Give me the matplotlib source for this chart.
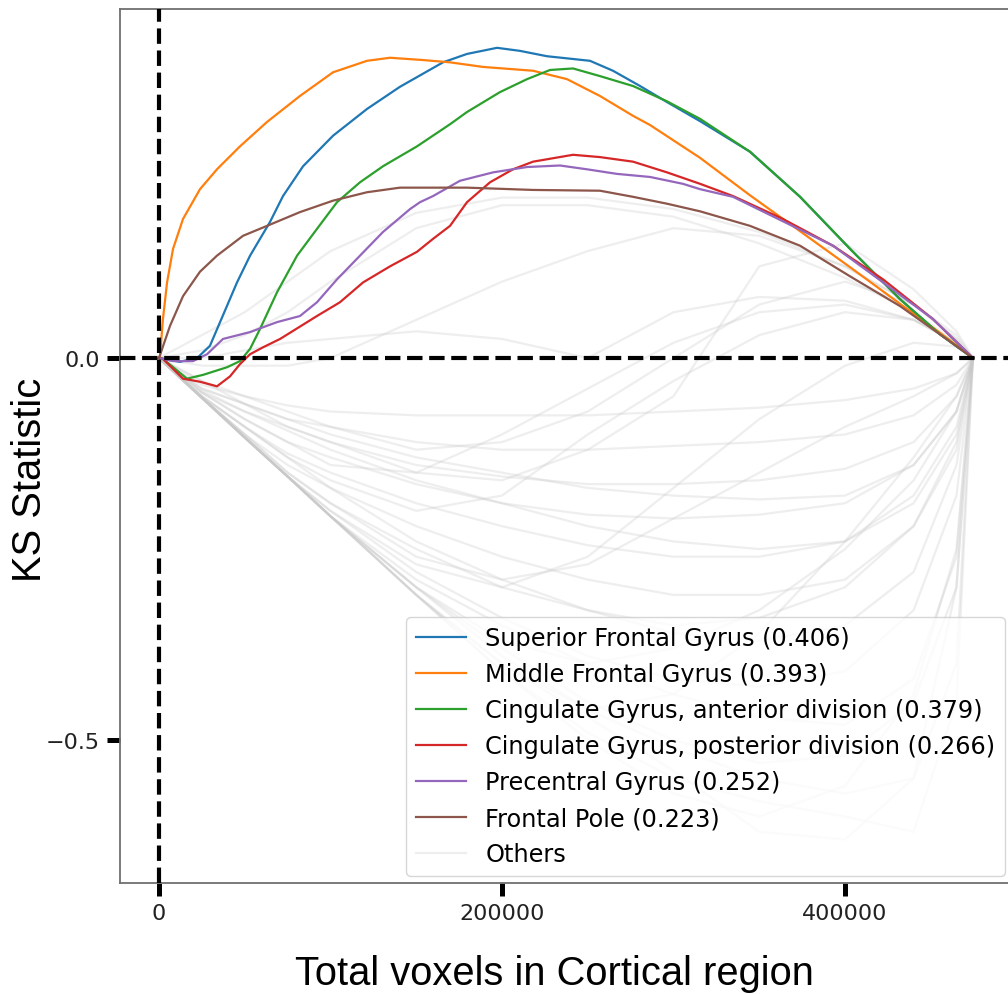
import matplotlib
matplotlib.use("Agg")
import matplotlib.pyplot as plt
import numpy as np

# ---------------- data (x in voxels, y = KS statistic) ----------------
names = [
    "Superior Frontal Gyrus (0.406)",
    "Middle Frontal Gyrus (0.393)",
    "Cingulate Gyrus, anterior division (0.379)",
    "Cingulate Gyrus, posterior division (0.266)",
    "Precentral Gyrus (0.252)",
    "Frontal Pole (0.223)",
]
colors = ["tab:blue", "tab:orange", "tab:green", "tab:red", "tab:purple", "tab:brown"]

sfg_x = [0, 12.2, 22.7, 29.7, 35.6, 45.5, 53.1, 64.7, 72.3, 84.0, 101.5, 121.3, 140.5, 165.6,
         179.6, 197.1, 210.5, 226.2, 251.3, 264.7, 280.5, 296.2, 315.5, 344.6, 373.8, 402.9,
         432.1, 455.4, 474.6]
sfg_y = [0, -0.005, 0.001, 0.016, 0.047, 0.099, 0.134, 0.178, 0.212, 0.251, 0.291, 0.326, 0.355,
         0.387, 0.398, 0.406, 0.402, 0.395, 0.389, 0.376, 0.356, 0.335, 0.310, 0.270, 0.211,
         0.143, 0.077, 0.031, 0]

mfg_x = [0, 0.6, 2.3, 4.7, 8.2, 14.0, 23.9, 33.8, 47.2, 63.0, 82.2, 101.5, 121.3, 134.7, 153.9,
         169.7, 188.9, 218.1, 237.9, 257.1, 276.4, 286.3, 315.5, 344.6, 373.8, 402.9, 432.1,
         455.4, 474.6]
mfg_y = [0, 0.003, 0.051, 0.099, 0.143, 0.182, 0.221, 0.247, 0.277, 0.309, 0.343, 0.374, 0.389,
         0.393, 0.390, 0.387, 0.381, 0.376, 0.365, 0.343, 0.317, 0.305, 0.262, 0.213, 0.166,
         0.119, 0.071, 0.033, 0]

cga_x = [0, 2.3, 16.3, 25.7, 39.7, 47.2, 53.1, 58.9, 68.8, 80.5, 92.1, 103.8, 117.2, 130.6, 150.4,
         169.7, 179.6, 198.8, 214.6, 228.0, 241.4, 257.1, 276.4, 296.2, 315.5, 344.6, 373.8,
         402.9, 432.1, 455.4, 474.6]
cga_y = [0, -0.001, -0.027, -0.022, -0.012, -0.004, 0.012, 0.038, 0.086, 0.134, 0.169, 0.204,
         0.230, 0.251, 0.277, 0.306, 0.322, 0.348, 0.365, 0.377, 0.379, 0.369, 0.356, 0.336,
         0.313, 0.270, 0.211, 0.143, 0.077, 0.031, 0]

cgp_x = [0, 2.3, 14.0, 23.9, 33.8, 41.4, 47.2, 53.1, 60.6, 70.6, 92.1, 105.5, 119.0, 134.7, 150.4,
         159.8, 169.7, 179.6, 193.0, 206.4, 218.1, 241.4, 257.1, 276.4, 296.2, 315.5, 334.7,
         363.8, 393.0, 422.2, 451.3, 474.6]
cgp_y = [0, -0.001, -0.027, -0.031, -0.037, -0.024, -0.008, 0.005, 0.014, 0.025, 0.055, 0.073,
         0.099, 0.120, 0.139, 0.156, 0.173, 0.204, 0.230, 0.247, 0.257, 0.266, 0.263, 0.257,
         0.243, 0.228, 0.212, 0.182, 0.147, 0.103, 0.051, 0]

pcg_x = [0, 2.3, 8.2, 19.8, 28.0, 37.3, 53.1, 68.8, 82.2, 92.1, 103.8, 117.2, 130.6, 146.4, 152.2,
         159.8, 175.5, 194.8, 214.6, 233.8, 249.6, 267.1, 286.3, 305.5, 315.5, 334.7, 363.8,
         393.0, 422.2, 451.3, 474.6]
pcg_y = [0, -0.001, -0.004, -0.004, 0.005, 0.025, 0.034, 0.047, 0.055, 0.073, 0.103, 0.134,
         0.165, 0.195, 0.204, 0.212, 0.232, 0.243, 0.250, 0.252, 0.247, 0.241, 0.237, 0.228,
         0.221, 0.211, 0.179, 0.147, 0.099, 0.051, 0]

fp_x = [0, 6.4, 14.0, 23.9, 33.8, 49.0, 63.0, 82.2, 101.5, 121.3, 140.5, 169.7, 179.6, 218.1,
        257.1, 276.4, 296.2, 315.5, 344.6, 373.8, 402.9, 432.1, 455.4, 474.6]
fp_y = [0, 0.042, 0.081, 0.113, 0.134, 0.160, 0.173, 0.191, 0.206, 0.217, 0.223, 0.223, 0.223,
        0.220, 0.219, 0.211, 0.202, 0.192, 0.173, 0.147, 0.107, 0.068, 0.031, 0]

main_x = [sfg_x, mfg_x, cga_x, cgp_x, pcg_x, fp_x]
main_y = [sfg_y, mfg_y, cga_y, cgp_y, pcg_y, fp_y]

# other regions (grey), on a shared x grid (thousand voxels)
others_x = [0, 25, 50, 75, 100, 150, 200, 250, 300, 350, 400, 440, 465, 474.6]
others_y = [
    [0, 0.03, 0.06, 0.10, 0.14, 0.19, 0.21, 0.21, 0.195, 0.165, 0.12, 0.07, 0.025, 0],
    [0, 0.01, 0.03, 0.06, 0.10, 0.17, 0.20, 0.20, 0.185, 0.15, 0.105, 0.06, 0.02, 0],
    [0, -0.01, -0.01, -0.01, 0.0, 0.05, 0.10, 0.14, 0.17, 0.16, 0.12, 0.07, 0.025, 0],
    [0, 0.0, 0.01, 0.02, 0.025, 0.035, 0.025, 0.0, 0.06, 0.08, 0.075, 0.05, 0.02, 0],
    [0, -0.03, -0.06, -0.09, -0.11, -0.15, -0.16, -0.12, -0.05, 0.12, 0.15, 0.09, 0.035, 0],
    [0, -0.03, -0.05, -0.07, -0.09, -0.12, -0.11, -0.07, 0.0, 0.07, 0.10, 0.07, 0.03, 0],
    [0, -0.045, -0.08, -0.11, -0.14, -0.15, -0.10, -0.04, 0.02, 0.06, 0.07, 0.05, 0.02, 0],
    [0, -0.052, -0.104, -0.155, -0.207, -0.31, -0.40, -0.47, -0.54, -0.62, -0.63, -0.55, -0.30, 0],
    [0, -0.052, -0.104, -0.155, -0.207, -0.30, -0.38, -0.45, -0.50, -0.53, -0.52, -0.45, -0.30, 0],
    [0, -0.052, -0.104, -0.155, -0.20, -0.28, -0.34, -0.39, -0.42, -0.43, -0.41, -0.33, -0.18, 0],
    [0, -0.052, -0.10, -0.15, -0.19, -0.25, -0.30, -0.33, -0.36, -0.37, -0.35, -0.28, -0.14, 0],
    [0, -0.052, -0.10, -0.14, -0.17, -0.22, -0.26, -0.29, -0.31, -0.31, -0.29, -0.22, -0.11, 0],
    [0, -0.050, -0.09, -0.125, -0.15, -0.19, -0.22, -0.245, -0.26, -0.26, -0.24, -0.18, -0.09, 0],
    [0, -0.045, -0.08, -0.11, -0.13, -0.165, -0.19, -0.205, -0.21, -0.205, -0.19, -0.14, -0.07, 0],
    [0, -0.042, -0.07, -0.09, -0.11, -0.14, -0.155, -0.165, -0.165, -0.16, -0.145, -0.11, -0.05, 0],
    [0, -0.04, -0.06, -0.08, -0.09, -0.11, -0.12, -0.12, -0.115, -0.11, -0.10, -0.075, -0.035, 0],
    [0, -0.035, -0.05, -0.062, -0.07, -0.075, -0.075, -0.075, -0.07, -0.065, -0.055, -0.04, -0.02, 0],
    [0, -0.052, -0.104, -0.155, -0.207, -0.31, -0.41, -0.50, -0.57, -0.60, -0.56, -0.44, -0.25, 0],
    [0, -0.052, -0.104, -0.155, -0.207, -0.30, -0.37, -0.40, -0.38, -0.33, -0.25, -0.16, -0.07, 0],
    [0, -0.052, -0.10, -0.15, -0.19, -0.26, -0.29, -0.27, -0.21, -0.15, -0.09, -0.05, -0.02, 0],
    [0, -0.052, -0.104, -0.155, -0.207, -0.31, -0.40, -0.46, -0.44, -0.36, -0.24, -0.13, -0.05, 0],
    [0, -0.05, -0.09, -0.13, -0.16, -0.20, -0.18, -0.10, -0.03, 0.03, 0.06, 0.05, 0.02, 0],
    [0, -0.052, -0.104, -0.155, -0.20, -0.27, -0.30, -0.26, -0.17, -0.08, -0.01, 0.02, 0.015, 0],
    [0, -0.052, -0.104, -0.155, -0.207, -0.31, -0.41, -0.49, -0.55, -0.58, -0.60, -0.62, -0.45, 0],
    [0, -0.052, -0.104, -0.155, -0.207, -0.30, -0.39, -0.46, -0.51, -0.55, -0.57, -0.55, -0.40, 0],
    [0, -0.05, -0.09, -0.13, -0.17, -0.24, -0.29, -0.33, -0.35, -0.34, -0.30, -0.22, -0.12, 0],
    [0, -0.045, -0.07, -0.095, -0.12, -0.16, -0.19, -0.22, -0.24, -0.25, -0.24, -0.19, -0.10, 0],
    [0, -0.052, -0.104, -0.155, -0.207, -0.29, -0.35, -0.40, -0.44, -0.47, -0.48, -0.42, -0.26, 0],
    [0, -0.04, -0.06, -0.08, -0.10, -0.13, -0.15, -0.17, -0.18, -0.185, -0.18, -0.14, -0.07, 0],
]

x_ticks = [0, 200000, 400000]
y_ticks = [-0.5, 0.0]

# ---------------- figure ----------------
W, H = 1008, 995
fig = plt.figure(figsize=(W / 100, H / 100), dpi=100)
ax = fig.add_axes([120 / W, (H - 884) / H, (1014 - 120) / W, (884 - 10) / H])

for i, ys in enumerate(others_y):
    ax.plot(np.array(others_x) * 1000, ys, color="#c8c8c8", alpha=0.3, lw=1.6,
            label="Others" if i == 0 else None, zorder=1)

for xs, ys, c, n in zip(main_x, main_y, colors, names):
    ax.plot(np.array(xs) * 1000, ys, color=c, lw=1.6, label=n, zorder=3)

ax.axvline(0, color="black", ls="--", lw=3, zorder=4)
ax.axhline(0, color="black", ls="--", lw=3, zorder=4)

ax.set_xlim(-22740, 498540)
ax.set_ylim(-0.687, 0.4568)
ax.set_xticks(x_ticks)
ax.set_yticks(y_ticks)
ax.tick_params(axis="both", direction="out", length=9.5, width=3.6, color="black",
               labelsize=16, pad=5, labelcolor="#222222")
for s in ax.spines.values():
    s.set_color("#707070")
    s.set_linewidth(1.3)

# legend: put "Others" last
handles, labels = ax.get_legend_handles_labels()
order = list(range(1, len(handles))) + [0]
leg = ax.legend([handles[i] for i in order], [labels[i] for i in order],
                loc="lower right", bbox_to_anchor=(1005 / W, (H - 877) / H),
                bbox_transform=fig.transFigure, borderaxespad=0,
                fontsize=17.3, handlelength=2.1, handletextpad=0.8, labelspacing=0.5)
leg.set_zorder(5)

fig.text(554 / W, 1 - 974 / H, "Total voxels in Cortical region", ha="center", va="center",
         fontsize=28.7, family="Liberation Sans")
fig.text(30 / W, 1 - 480 / H, "KS Statistic", ha="center", va="center", rotation=90,
         fontsize=28.7, family="Liberation Sans")

fig.savefig("out.png", dpi=100)
